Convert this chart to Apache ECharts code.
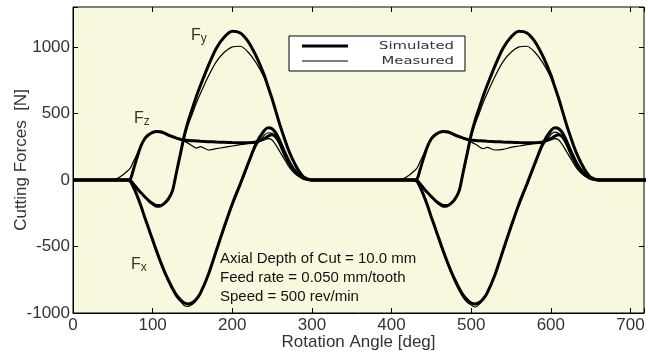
<!DOCTYPE html>
<html><head><meta charset="utf-8">
<script src="https://cdn.jsdelivr.net/npm/echarts@6/dist/echarts.min.js"></script>
<style>html,body{margin:0;padding:0;background:#fff}#c{width:648px;height:357px}</style>
</head><body><div id="c"></div>
<script>
// Rotation angle [deg]
const angle = [0,40,55,62,68,72,76,80,85,90,95,100,105,110,115,120,125,130,135,140,145,150,155,160,170,180,190,200,210,220,230,240,245,250,255,260,265,270,275,280,285,290,300,320,360,
400,415,422,428,432,436,440,445,450,455,460,465,470,475,480,485,490,495,500,505,510,515,520,530,540,550,560,570,580,590,600,605,610,615,620,625,630,635,640,645,650,660,680,720];

const fxSimulated = [0,0,0,0,0,-10,-55,-110,-190,-280,-365,-450,-535,-615,-690,-755,-815,-865,-900,-925,-932,-922,-895,-850,-710,-530,-350,-180,-30,125,275,370,392,385,350,290,220,155,100,60,30,10,0,0,0,
0,0,0,0,-10,-55,-110,-190,-280,-365,-450,-535,-615,-690,-755,-815,-865,-900,-925,-932,-922,-895,-850,-710,-530,-350,-180,-30,125,275,370,392,385,350,290,220,155,100,60,30,10,0,0,0];
const fxMeasured = [0,0,0,0,-5,-20,-60,-115,-195,-285,-375,-465,-550,-630,-705,-770,-830,-880,-915,-945,-950,-935,-905,-850,-715,-540,-365,-195,-45,110,255,335,355,350,320,270,210,150,100,60,30,10,0,0,0,
0,0,0,-5,-20,-60,-115,-195,-285,-375,-465,-550,-630,-705,-775,-835,-885,-920,-940,-955,-935,-900,-850,-710,-540,-365,-195,-45,110,255,340,360,350,315,265,205,150,100,60,30,10,0,0,0];
const fySimulated = [0,0,0,0,0,-5,-30,-60,-95,-125,-155,-180,-198,-195,-175,-140,-80,60,200,340,450,540,630,710,860,990,1075,1118,1105,1040,930,790,700,610,510,410,320,235,165,105,55,20,0,0,0,
0,0,0,0,-5,-30,-60,-95,-125,-155,-180,-198,-195,-175,-140,-80,60,200,340,450,540,630,710,860,990,1075,1118,1105,1040,930,790,700,610,510,410,320,235,165,105,55,20,0,0,0];
const fyMeasured = [0,0,0,0,-5,-10,-35,-60,-95,-125,-150,-170,-185,-185,-170,-135,-80,50,185,320,420,500,580,650,780,890,960,1000,1005,960,880,770,690,610,520,420,330,245,170,110,60,25,0,0,0,
0,0,0,-5,-10,-35,-60,-95,-125,-150,-170,-185,-185,-170,-135,-80,50,185,320,420,500,580,650,780,890,960,1000,1005,960,880,770,690,610,520,420,330,245,170,110,60,25,0,0,0];
const fzSimulated = [0,0,0,0,0,5,80,160,250,310,340,358,365,362,352,338,325,315,305,300,297,295,293,291,288,285,283,281,280,280,285,310,330,340,320,270,200,140,90,55,30,12,0,0,0,
0,0,0,0,5,80,160,250,310,340,358,365,362,352,338,325,315,305,300,297,295,293,291,288,285,283,281,280,280,285,310,330,340,320,270,200,140,90,55,30,12,0,0,0];
const fzMeasured = [0,0,10,35,65,90,140,190,260,310,340,355,360,355,345,330,320,310,300,290,275,255,240,250,225,235,245,255,265,275,285,300,310,300,260,210,160,110,70,40,20,8,0,0,0,
0,10,35,65,90,140,190,260,310,340,355,360,355,345,330,320,310,300,285,270,250,235,245,225,230,245,255,265,275,285,300,310,300,260,210,160,110,70,40,20,8,0,0,0];

const xTicks = [0,100,200,300,400,500,600,700];
const yTicks = [-1000,-500,0,500,1000];

function pairs(ys){ return angle.map((a,i)=>[a,ys[i]]); }

const chart = echarts.init(document.getElementById('c'), null, {renderer:'canvas'});
const font = 'Liberation Sans, Arial, Helvetica, sans-serif';
const thick = {type:'line', symbol:'none', smooth:0.25, lineStyle:{color:'#000', width:3}, z:3};
const thin = {type:'line', symbol:'none', smooth:0.25, lineStyle:{color:'#000', width:1.2}, z:4};
const tickStyle = {inside:true, length:5, lineStyle:{color:'#000'}};

chart.setOption({
  animation:false,
  backgroundColor:'#fff',
  grid:{left:73, right:4, top:7, bottom:44, containLabel:false, outerBoundsMode:'none', show:true, backgroundColor:'#f8f8de', borderColor:'#000', borderWidth:1},
  xAxis:[{
    type:'value', min:0, max:717, interval:100,
    name:'Rotation Angle [deg]', nameLocation:'middle', nameGap:21, nameMoveOverlap:false,
    nameTextStyle:{fontFamily:font, fontSize:17, color:'#333'},
    axisLine:{onZero:false, lineStyle:{color:'#000'}},
    axisTick:tickStyle,
    axisLabel:{fontFamily:font, fontSize:17, color:'#333', margin:4,
      formatter:v=> xTicks.includes(v) ? String(v) : ''},
    splitLine:{show:false}
  },{
    type:'value', position:'top', min:0, max:717, interval:100,
    axisLine:{show:false, onZero:false}, axisTick:tickStyle,
    axisLabel:{show:false}, splitLine:{show:false}
  }],
  yAxis:[{
    type:'value', min:-1000, max:1300, interval:500,
    name:'Cutting Forces  [N]', nameLocation:'middle', nameGap:43, nameMoveOverlap:false,
    nameTextStyle:{fontFamily:font, fontSize:17, color:'#333'},
    axisLine:{onZero:false, lineStyle:{color:'#000'}},
    axisTick:tickStyle,
    axisLabel:{fontFamily:font, fontSize:17, color:'#333', margin:3,
      formatter:v=> yTicks.includes(v) ? String(v) : ''},
    splitLine:{show:false}
  },{
    type:'value', position:'right', min:-1000, max:1300, interval:500,
    axisLine:{show:false, onZero:false}, axisTick:tickStyle,
    axisLabel:{show:false}, splitLine:{show:false}
  }],
  series:[
    Object.assign({name:'Fx Measured', data:pairs(fxMeasured)}, thin),
    Object.assign({name:'Fy Measured', data:pairs(fyMeasured)}, thin),
    Object.assign({name:'Fz Measured', data:pairs(fzMeasured)}, thin),
    Object.assign({name:'Fx Simulated', data:pairs(fxSimulated)}, thick),
    Object.assign({name:'Fy Simulated', data:pairs(fySimulated)}, thick),
    Object.assign({name:'Fz Simulated', data:pairs(fzSimulated)}, thick)
  ],
  graphic:[
    {type:'rect', shape:{x:289, y:36, width:176, height:35}, style:{fill:'#fff', stroke:'#000', lineWidth:1}, z:10},
    {type:'line', shape:{x1:302, y1:46, x2:348, y2:46}, style:{stroke:'#000', lineWidth:3}, z:11},
    {type:'line', shape:{x1:302, y1:61, x2:348, y2:61}, style:{stroke:'#000', lineWidth:1.2}, z:11},
    {type:'text', x:454, y:46, scaleX:1.35, style:{text:'Simulated', fontFamily:'DejaVu Sans', fontSize:11, fill:'#333', align:'right', verticalAlign:'middle'}, z:11},
    {type:'text', x:454, y:61, scaleX:1.35, style:{text:'Measured', fontFamily:'DejaVu Sans', fontSize:11, fill:'#333', align:'right', verticalAlign:'middle'}, z:11},
    {type:'text', x:191, y:27, style:{text:'{a|F}{b|y}', rich:{a:{fontFamily:font, fontSize:16, fill:'#333'}, b:{fontFamily:font, fontSize:12, fill:'#333', padding:[6,0,0,0]}}}, z:11},
    {type:'text', x:134, y:110, style:{text:'{a|F}{b|z}', rich:{a:{fontFamily:font, fontSize:16, fill:'#333'}, b:{fontFamily:font, fontSize:12, fill:'#333', padding:[6,0,0,0]}}}, z:11},
    {type:'text', x:131, y:256, style:{text:'{a|F}{b|x}', rich:{a:{fontFamily:font, fontSize:16, fill:'#333'}, b:{fontFamily:font, fontSize:12, fill:'#333', padding:[6,0,0,0]}}}, z:11},
    {type:'text', x:220, y:249, style:{text:'Axial Depth of Cut = 10.0 mm\nFeed rate = 0.050 mm/tooth\nSpeed = 500 rev/min', fontFamily:font, fontSize:15, lineHeight:19, fill:'#111'}, z:11}
  ]
});
</script></body></html>
